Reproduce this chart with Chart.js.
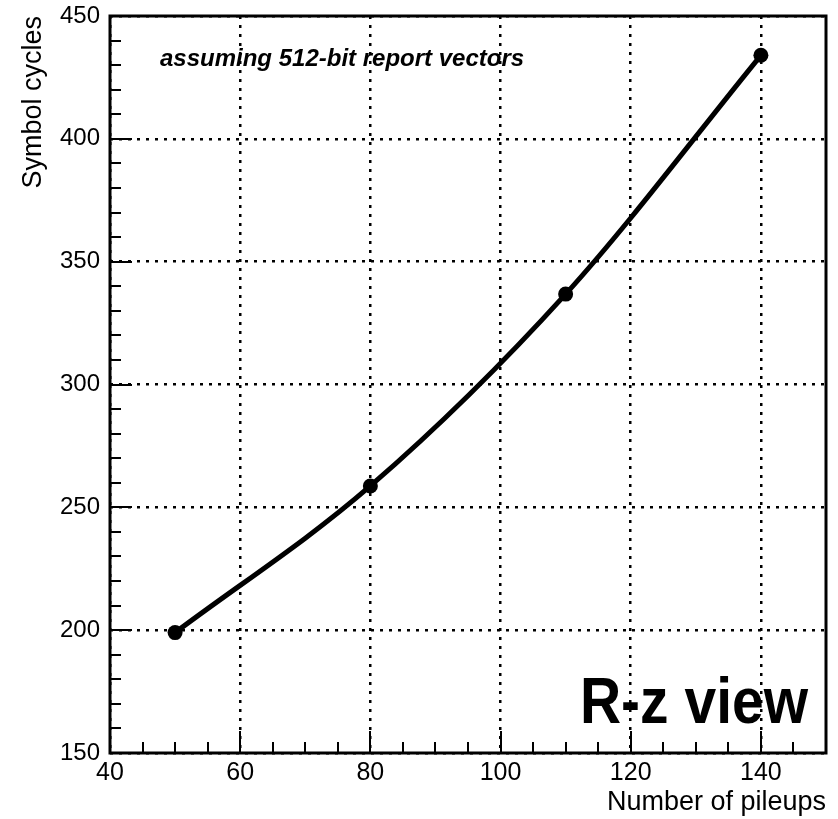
<!DOCTYPE html>
<html>
<head>
<meta charset="utf-8">
<script src="https://cdn.jsdelivr.net/npm/chart.js@4/dist/chart.umd.min.js"></script>
<style>
  body { margin: 0; background: #fff; }
  canvas { display: block; }
</style>
</head>
<body>
<canvas id="pileup-chart" width="838" height="819"></canvas>
<script>
// values
const pileups = [50, 80, 110, 140];
const symbolCycles = [199, 258.7, 336.8, 434];
const xTickValues = [40, 60, 80, 100, 120, 140];
const yTickValues = [150, 200, 250, 300, 350, 400, 450];

const FONT = "'Liberation Sans', Arial, Helvetica, sans-serif";

// ROOT-like frame, inner ticks and the two text labels
const rootStyle = {
  id: "rootStyle",
  afterDatasetsDraw(chart) {
    const ctx = chart.ctx;
    const area = chart.chartArea;
    const xs = chart.scales.x;
    const ys = chart.scales.y;

    ctx.save();
    ctx.strokeStyle = "#000";
    ctx.lineWidth = 2;
    ctx.setLineDash([]);

    // x ticks: minor every 5, major every 20
    for (let v = xs.min; v <= xs.max; v += 5) {
      const px = Math.round(xs.getPixelForValue(v));
      const len = v % 20 === 0 ? 22 : 11;
      ctx.beginPath();
      ctx.moveTo(px, area.bottom);
      ctx.lineTo(px, area.bottom - len);
      ctx.stroke();
    }
    // y ticks: minor every 10, major every 50
    for (let v = ys.min; v <= ys.max; v += 10) {
      const py = Math.round(ys.getPixelForValue(v));
      const len = v % 50 === 0 ? 22 : 11;
      ctx.beginPath();
      ctx.moveTo(area.left, py);
      ctx.lineTo(area.left + len, py);
      ctx.stroke();
    }

    // frame
    ctx.lineWidth = 3;
    ctx.strokeRect(area.left, area.top, area.right - area.left, area.bottom - area.top);

    // note text
    ctx.fillStyle = "#000";
    ctx.textAlign = "left";
    ctx.textBaseline = "alphabetic";
    ctx.font = "italic bold 24px " + FONT;
    ctx.fillText("assuming 512-bit report vectors", 160, 66);

    // big label, a bit taller than wide like the original
    ctx.save();
    ctx.translate(808, 723);
    ctx.scale(1, 1.15);
    ctx.textAlign = "right";
    ctx.font = "bold 57px " + FONT;
    ctx.fillText("R-z view", 0, 0);
    ctx.restore();

    ctx.restore();
  },
};

const ctx = document.getElementById("pileup-chart").getContext("2d");
new Chart(ctx, {
  type: "line",
  data: {
    datasets: [
      {
        label: "Symbol cycles",
        data: pileups.map((p, i) => ({ x: p, y: symbolCycles[i] })),
        borderColor: "#000",
        backgroundColor: "#000",
        borderWidth: 5,
        pointRadius: 7.5,
        pointHoverRadius: 7.5,
        pointBackgroundColor: "#000",
        pointBorderWidth: 0,
        cubicInterpolationMode: "monotone",
        fill: false,
      },
    ],
  },
  options: {
    responsive: false,
    devicePixelRatio: 1,
    animation: false,
    events: [],
    layout: { padding: { top: 16, right: 12, left: 0, bottom: 0 } },
    plugins: {
      legend: { display: false },
      tooltip: { enabled: false },
    },
    scales: {
      x: {
        type: "linear",
        min: 40,
        max: 150,
        afterFit: (s) => {
          s.height = 66;
          s.paddingLeft = 0;
          s.paddingRight = 0;
        },
        afterBuildTicks: (s) => { s.ticks = xTickValues.map((v) => ({ value: v })); },
        ticks: {
          autoSkip: false,
          maxRotation: 0,
          padding: 5,
          color: "#000",
          font: { family: FONT, size: 25 },
        },
        grid: {
          color: "#000",
          lineWidth: 2.5,
          drawTicks: false,
        },
        border: { display: false, dash: [3, 6] },
        title: {
          display: true,
          text: "Number of pileups",
          align: "end",
          color: "#000",
          font: { family: FONT, size: 27 },
          padding: { top: 0, bottom: 0 },
        },
      },
      y: {
        type: "linear",
        min: 150,
        max: 450,
        afterFit: (s) => {
          s.width = 110;
          s.paddingTop = 0;
          s.paddingBottom = 0;
        },
        afterBuildTicks: (s) => { s.ticks = yTickValues.map((v) => ({ value: v })); },
        ticks: {
          padding: 10,
          color: "#000",
          font: { family: FONT, size: 24 },
        },
        grid: {
          color: "#000",
          lineWidth: 2.5,
          drawTicks: false,
        },
        border: { display: false, dash: [3, 6] },
        title: {
          display: true,
          text: "Symbol cycles",
          align: "end",
          color: "#000",
          font: { family: FONT, size: 27 },
          padding: { top: 17, bottom: 0 },
        },
      },
    },
  },
  plugins: [rootStyle],
});
</script>
</body>
</html>
